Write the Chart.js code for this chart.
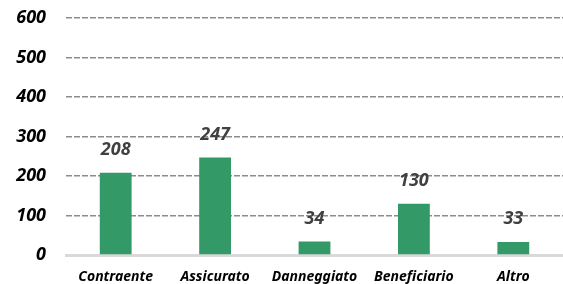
<!DOCTYPE html>
<html><head><meta charset="utf-8">
<script src="https://cdn.jsdelivr.net/npm/chart.js@4/dist/chart.umd.min.js"></script>
<style>html,body{margin:0;padding:0;background:#fff}#w{width:563px;height:284px}</style>
</head><body><div id="w"><canvas id="c"></canvas></div>
<script>
const categories = ["Contraente", "Assicurato", "Danneggiato", "Beneficiario", "Altro"];
const values = [208, 247, 34, 130, 33];
const yTicks = [0, 100, 200, 300, 400, 500, 600];

const FONT = "'Noto Sans', sans-serif";
const labelPlugin = {
  id: 'vals',
  afterDatasetsDraw(chart) {
    const ctx = chart.ctx;
    const meta = chart.getDatasetMeta(0);
    ctx.save();
    ctx.font = "italic bold 18px " + FONT;
    ctx.fillStyle = "#404040";
    ctx.textAlign = "center";
    ctx.textBaseline = "middle";
    meta.data.forEach((bar, i) => {
      ctx.fillText(String(values[i]), bar.x, bar.y - 23);
    });
    ctx.restore();
  }
};

new Chart(document.getElementById('c'), {
  type: 'bar',
  data: { labels: categories, datasets: [{ data: values, backgroundColor: '#339966', categoryPercentage: 1, barPercentage: 0.32 }] },
  options: {
    responsive: true, maintainAspectRatio: false, animation: false,
    layout: { padding: { left: 0, right: 0, top: 18, bottom: 0 } },
    plugins: { legend: { display: false }, tooltip: { enabled: false } },
    scales: {
      x: {
        grid: { display: false, tickLength: 0 },
        border: { color: '#d9d9d9', width: 3 },
        ticks: { color: '#000', font: { family: FONT, size: 14, style: 'italic', weight: 'bold' }, padding: 14 },
        afterFit(s) { s.height = 29; }
      },
      y: {
        min: 0, max: 600,
        afterBuildTicks(s) { s.ticks = yTicks.map(v => ({ value: v })); },
        afterFit(s) { s.width = 66; s.paddingTop = 0; s.paddingBottom = 0; },
        border: { display: false, dash: [6, 2] },
        grid: { color: c => c.tick && c.tick.value === 0 ? 'rgba(0,0,0,0)' : '#8c8c8c', lineWidth: 1.6, drawTicks: false },
        ticks: { color: '#000', font: { family: FONT, size: 18, style: 'italic', weight: 'bold' }, padding: 20 }
      }
    }
  },
  plugins: [labelPlugin]
});
</script></body></html>
